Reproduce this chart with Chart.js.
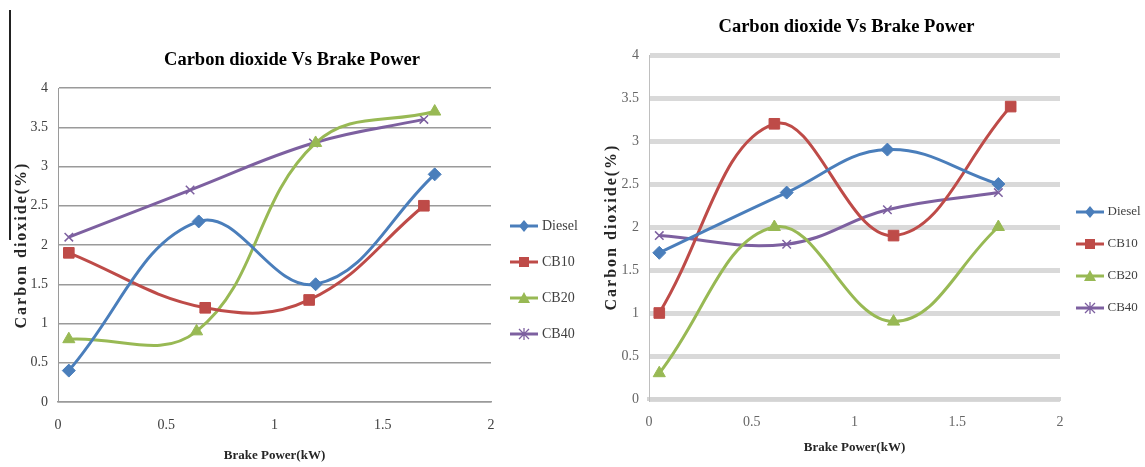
<!DOCTYPE html>
<html><head><meta charset="utf-8">
<script src="https://cdn.jsdelivr.net/npm/chart.js@4.4.1/dist/chart.umd.min.js"></script>
<style>
html,body{margin:0;padding:0;background:#fff;}
#wrap{position:relative;width:1145px;height:467px;overflow:hidden;background:#fff;}
.box{position:absolute;top:0;height:467px;}
#l{left:0;width:580px;} #r{left:580px;width:565px;}
#bar{position:absolute;left:9px;top:10px;width:1.5px;height:230px;background:#222;}
canvas{display:block;}
</style></head><body>
<div id="wrap">
<div class="box" id="l"><canvas id="c1" width="580" height="467"></canvas></div>
<div class="box" id="r"><canvas id="c2" width="565" height="467"></canvas></div>
<div id="bar"></div>
</div>
<script>
// ---- data ----
const seriesNames = ['Diesel', 'CB10', 'CB20', 'CB40'];
const chartTitle = 'Carbon dioxide Vs Brake Power';
const xAxisTitle = 'Brake Power(kW)';
const yAxisTitle = 'Carbon dioxide(%)';
const xTickStep = 0.5, xMin = 0, xMax = 2;
const yTickStep = 0.5, yMin = 0, yMax = 4;

// left chart
const leftDieselBP = [0.05, 0.65, 1.19, 1.74];
const leftDieselCO2 = [0.4, 2.3, 1.5, 2.9];
const leftCB10BP = [0.05, 0.68, 1.16, 1.69];
const leftCB10CO2 = [1.9, 1.2, 1.3, 2.5];
const leftCB20BP = [0.05, 0.64, 1.19, 1.74];
const leftCB20CO2 = [0.8, 0.9, 3.3, 3.7];
const leftCB40BP = [0.05, 0.61, 1.18, 1.69];
const leftCB40CO2 = [2.1, 2.7, 3.3, 3.6];

// right chart
const rightDieselBP = [0.05, 0.67, 1.16, 1.70];
const rightDieselCO2 = [1.7, 2.4, 2.9, 2.5];
const rightCB10BP = [0.05, 0.61, 1.19, 1.76];
const rightCB10CO2 = [1.0, 3.2, 1.9, 3.4];
const rightCB20BP = [0.05, 0.61, 1.19, 1.70];
const rightCB20CO2 = [0.3, 2.0, 0.9, 2.0];
const rightCB40BP = [0.05, 0.67, 1.16, 1.70];
const rightCB40CO2 = [1.9, 1.8, 2.2, 2.4];

// ---- styles ----
const COLORS = ['#4A7EBB', '#BE4B48', '#98B954', '#7D60A0'];
const STYLES = ['rectRot', 'rect', 'triangle', 'crossRot'];
const RADII = [6.5, 7.5, 7, 6];
const F = "'Liberation Serif', 'Times New Roman', serif";

function pairs(xs, ys) { return xs.map((x, i) => ({ x: x, y: ys[i] })); }
function fmtTick(v) { return String(Math.round(v * 10) / 10); }

function markerImage(color, style) {
  const c = document.createElement('canvas');
  c.width = 28; c.height = 14;
  const g = c.getContext('2d');
  g.strokeStyle = color; g.fillStyle = color; g.lineWidth = 3;
  g.beginPath(); g.moveTo(0, 7); g.lineTo(28, 7); g.stroke();
  const cx = 14, cy = 7;
  g.beginPath();
  if (style === 'rectRot') { g.moveTo(cx, cy - 6); g.lineTo(cx + 5, cy); g.lineTo(cx, cy + 6); g.lineTo(cx - 5, cy); g.closePath(); g.fill(); }
  else if (style === 'rect') { g.fillRect(cx - 5, cy - 5, 10, 10); }
  else if (style === 'triangle') { g.moveTo(cx, cy - 6); g.lineTo(cx + 6, cy + 5); g.lineTo(cx - 6, cy + 5); g.closePath(); g.fill(); }
  else { g.lineWidth = 1.3; g.moveTo(cx - 5, cy - 5); g.lineTo(cx + 5, cy + 5); g.moveTo(cx + 5, cy - 5); g.lineTo(cx - 5, cy + 5); g.moveTo(cx, cy - 6); g.lineTo(cx, cy + 6); g.stroke(); }
  return c;
}
const MARKERS = COLORS.map((c, i) => markerImage(c, STYLES[i]));

const layoutTweak = {
  id: 'layoutTweak',
  afterLayout(chart, args, opts) {
    const lg = chart.legend;
    if (lg && opts.legendDy) { lg.top += opts.legendDy; lg.bottom += opts.legendDy; }
    const tb = chart.titleBlock;
    if (tb && opts.titleDx) { tb.left += opts.titleDx; tb.right += opts.titleDx; }
    const ys = chart.scales.y;
    if (ys && !ys._lsWrapped) {
      const orig = ys.drawTitle.bind(ys);
      ys.drawTitle = function () { const ctx = this.ctx; ctx.save(); ctx.letterSpacing = opts.ySpacing || '0px'; orig(); ctx.restore(); };
      ys._lsWrapped = true;
    }
  }
};

function buildDatasets(xsList, ysList) {
  return seriesNames.map((name, i) => ({
    label: name,
    data: pairs(xsList[i], ysList[i]),
    borderColor: COLORS[i],
    backgroundColor: COLORS[i],
    pointBackgroundColor: COLORS[i],
    pointBorderColor: COLORS[i],
    pointStyle: STYLES[i],
    pointRadius: RADII[i],
    pointBorderWidth: STYLES[i] === 'crossRot' ? 1.5 : 1,
    borderWidth: 3,
    tension: 0.4,
    fill: false
  }));
}

function makeChart(id, datasets, c) {
  return new Chart(document.getElementById(id), {
    type: 'line',
    data: { datasets: datasets },
    plugins: [layoutTweak],
    options: {
      responsive: false,
      animation: false,
      devicePixelRatio: 1,
      layout: { padding: { left: 0, right: 0, top: 0, bottom: 0 } },
      plugins: {
        layoutTweak: { legendDy: c.legendDy, titleDx: c.titleDx, ySpacing: '2px' },
        tooltip: { enabled: false },
        title: {
          display: true, text: chartTitle, color: '#000',
          font: { family: F, size: c.titleSize, weight: 'bold' },
          padding: { top: c.titleTop, bottom: c.titleBottom }
        },
        legend: {
          display: true, position: 'right', align: 'center', fullSize: false,
          maxWidth: c.legendW,
          labels: {
            usePointStyle: true, pointStyleWidth: 22, padding: c.legendPad,
            color: '#404040', font: { family: F, size: c.legendFont },
            generateLabels: (chart) => chart.data.datasets.map((d, i) => ({
              text: d.label, pointStyle: MARKERS[i], fillStyle: d.borderColor,
              strokeStyle: d.borderColor, lineWidth: 0, hidden: false, datasetIndex: i, fontColor: '#404040'
            }))
          }
        }
      },
      scales: {
        x: {
          type: 'linear', min: xMin, max: xMax,
          ticks: { stepSize: xTickStep, padding: c.xTickPad, color: c.tickColor, font: { family: F, size: 14 }, callback: fmtTick },
          grid: { display: false, drawTicks: false },
          border: { display: true, color: c.xBorderColor, width: c.xBorderW },
          title: { display: true, text: xAxisTitle, color: '#262626', font: { family: F, size: 13, weight: 'bold' }, padding: { top: 0, bottom: c.xTitleBottom } },
          afterFit: (s) => { s.height = c.xHeight; }
        },
        y: {
          type: 'linear', min: yMin, max: yMax,
          ticks: { stepSize: yTickStep, padding: c.yTickPad, color: c.tickColor, font: { family: F, size: 14 }, callback: fmtTick },
          grid: { color: c.gridColor, lineWidth: c.gridW, drawTicks: false },
          border: { display: true, color: c.yBorderColor, width: 1 },
          title: { display: true, text: yAxisTitle, color: '#262626', font: { family: F, size: 16, weight: 'bold' }, padding: { top: c.yTitleTop, bottom: 0 } },
          afterFit: (s) => { s.width = c.yWidth; }
        }
      }
    }
  });
}

makeChart('c1',
  buildDatasets([leftDieselBP, leftCB10BP, leftCB20BP, leftCB40BP], [leftDieselCO2, leftCB10CO2, leftCB20CO2, leftCB40CO2]),
  { titleSize: 18.5, titleTop: 48.9, titleBottom: 16.9, titleDx: 2, legendW: 89, legendPad: 22, legendDy: 35, legendFont: 14,
    xTickPad: 15, xTitleBottom: 3.6, xHeight: 65, yTickPad: 10, yTitleTop: 12.4, yWidth: 58,
    tickColor: '#404040', gridColor: '#9a9a9a', gridW: 1.5, xBorderColor: '#9a9a9a', xBorderW: 1.5, yBorderColor: '#9a9a9a' });

makeChart('c2',
  buildDatasets([rightDieselBP, rightCB10BP, rightCB20BP, rightCB40BP], [rightDieselCO2, rightCB10CO2, rightCB20CO2, rightCB40CO2]),
  { titleSize: 18.5, titleTop: 15.9, titleBottom: 16.9, titleDx: -16, legendW: 85, legendPad: 19, legendDy: 33, legendFont: 13,
    xTickPad: 15, xTitleBottom: 11.6, xHeight: 68, yTickPad: 10, yTitleTop: 22.4, yWidth: 69,
    tickColor: '#666666', gridColor: '#d9d9d9', gridW: 5, xBorderColor: '#d4d4d4', xBorderW: 4, yBorderColor: '#bfbfbf' });
</script>
</body></html>
